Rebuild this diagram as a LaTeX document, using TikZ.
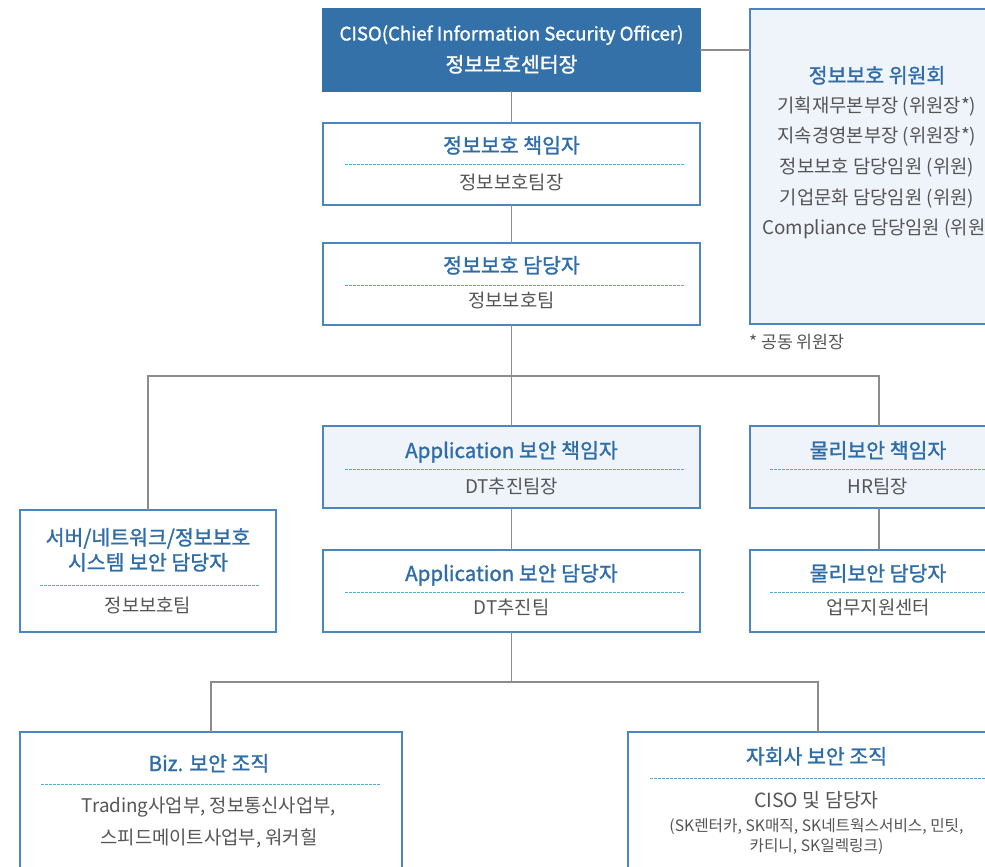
\documentclass[tikz,border=0pt]{standalone}
\usepackage{fontspec}
\setmainfont{Noto Sans CJK KR}
\newfontfamily\medfont{Noto Sans CJK KR}[FakeBold=1.3]
\definecolor{cisoblue}{HTML}{3471A8}
\definecolor{bordblue}{HTML}{4C86C0}
\definecolor{titleblue}{HTML}{2F6DA8}
\definecolor{bodygray}{HTML}{555555}
\definecolor{lightfill}{HTML}{EFF3FA}
\definecolor{dotblue}{HTML}{55AACC}
\definecolor{linegray}{HTML}{8C8C8C}
\tikzset{
  orgbox/.style={draw=bordblue, line width=1.2pt, anchor=north west, inner sep=0pt, outer sep=0pt},
  ttl/.style={anchor=base, text=titleblue, font=\fontsize{20.5}{24}\medfont, inner sep=0pt},
  sub/.style={anchor=base, text=bodygray, font=\fontsize{18.8}{22}\selectfont, inner sep=0pt},
  small/.style={anchor=base, text=bodygray, font=\fontsize{15.7}{19}\selectfont, inner sep=0pt},
  sep/.style={draw=dotblue, line width=1pt, dash pattern=on 2.5pt off 1.5pt},
  conn/.style={draw=linegray, line width=1.1pt}
}
\begin{document}
\begin{tikzpicture}[x=1pt,y=-1pt]
\useasboundingbox (0,0) rectangle (985,867);
\clip (0,0) rectangle (985,867);
\fill[white] (0,0) rectangle (985,867);

% boxes
\node[orgbox, draw=cisoblue, fill=cisoblue, minimum width=377pt, minimum height=82pt] (ciso) at (323,9) {};
\node[orgbox, fill=lightfill, minimum width=258pt, minimum height=315pt] (comm) at (750,9) {};
\node[orgbox, fill=white, minimum width=377pt, minimum height=82pt] (resp) at (323,123) {};
\node[orgbox, fill=white, minimum width=377pt, minimum height=82pt] (mgr) at (323,243) {};
\node[orgbox, fill=lightfill, minimum width=377pt, minimum height=82pt] (app1) at (323,426) {};
\node[orgbox, fill=white, minimum width=377pt, minimum height=82pt] (app2) at (323,550) {};
\node[orgbox, fill=lightfill, minimum width=258pt, minimum height=82pt] (phys1) at (750,426) {};
\node[orgbox, fill=white, minimum width=258pt, minimum height=82pt] (phys2) at (750,550) {};
\node[orgbox, fill=white, minimum width=256pt, minimum height=122pt] (srv) at (20,510) {};
\node[orgbox, fill=white, minimum width=382pt, minimum height=160pt] (biz) at (20,732) {};
\node[orgbox, fill=white, minimum width=380pt, minimum height=160pt] (subs) at (628,732) {};

\coordinate (j1) at (511.5,376);
\coordinate (j2) at (511.5,682);

\draw[conn] (ciso.east) -- (comm.west |- ciso.east);
\draw[conn] (ciso.south) -- (resp.north);
\draw[conn] (resp.south) -- (mgr.north);
\draw[conn] (mgr.south) -- (j1);
\draw[conn] (srv.north) |- (j1) -| (phys1.north);
\draw[conn] (j1) -- (app1.north);
\draw[conn] (app1.south) -- (app2.north);
\draw[conn] (phys1.south) -- (phys2.north);
\draw[conn] (app2.south) -- (j2);
\draw[conn] (biz.north) |- (j2) -| (subs.north);

% CISO texts
\node[anchor=base, text=white, font=\fontsize{18.6}{22}\medfont, inner sep=0pt] (cisoA) at (511.5,40.5) {CISO(Chief Information Security Officer)};
\node[anchor=base, text=white, font=\fontsize{20.5}{24}\medfont, inner sep=0pt] (cisoB) at (511.5,72) {정보보호센터장};

% committee
\node[ttl] (commT) at (877,83) {정보보호 위원회};
\node[sub] (commL1) at (877,112.5) {기획재무본부장 (위원장*)};
\node[sub] (commL2) at (877,142.5) {지속경영본부장 (위원장*)};
\node[sub] (commL3) at (877,173.5) {정보보호 담당임원 (위원)};
\node[sub] (commL4) at (877,204.5) {기업문화 담당임원 (위원)};
\node[sub] (commL5) at (877,234.5) {Compliance 담당임원 (위원)};
\node[anchor=base west, text=bodygray, font=\fontsize{17.3}{20}\selectfont, inner sep=0pt] (note) at (749,348.5) {* 공동 위원장};

% resp
\node[ttl] (respT) at (511.5,153) {정보보호 책임자};
\draw[sep] (345,164) -- (684,164);
\node[sub] (respS) at (511.5,189.5) {정보보호팀장};

% mgr
\node[ttl] (mgrT) at (511.5,273) {정보보호 담당자};
\draw[sep] (345,285) -- (684,285);
\node[sub] (mgrS) at (511.5,307.5) {정보보호팀};

% app1
\node[ttl] (app1T) at (511.5,458) {Application 보안 책임자};
\draw[sep] (345,469) -- (684,469);
\node[sub] (app1S) at (511.5,493.5) {DT추진팀장};

% app2
\node[ttl] (app2T) at (511.5,581) {Application 보안 담당자};
\draw[sep] (345,592) -- (684,592);
\node[sub] (app2S) at (511.5,614.5) {DT추진팀};

% phys1
\node[ttl] (phys1T) at (878,458) {물리보안 책임자};
\draw[sep] (770,469) -- (1000,469);
\node[sub] (phys1S) at (878,493.5) {HR팀장};

% phys2
\node[ttl] (phys2T) at (878,581) {물리보안 담당자};
\draw[sep] (770,592) -- (1000,592);
\node[sub] (phys2S) at (878,614.5) {업무지원센터};

% srv
\node[ttl] (srvT1) at (148,545) {서버/네트워크/정보보호};
\node[ttl] (srvT2) at (148,570) {시스템 보안 담당자};
\draw[sep] (40,585) -- (260,585);
\node[sub] (srvS) at (148,612.5) {정보보호팀};

% biz
\node[ttl] (bizT) at (209,771) {Biz. 보안 조직};
\draw[sep] (41,784) -- (380,784);
\node[sub] (bizS1) at (209,812.5) {Trading사업부, 정보통신사업부,};
\node[sub] (bizS2) at (209,844.5) {스피드메이트사업부, 워커힐};

% subsidiaries
\node[ttl] (subsT) at (816.5,764) {자회사 보안 조직};
\draw[sep] (650,778) -- (1000,778);
\node[anchor=base, text=bodygray, font=\fontsize{19.5}{23}\selectfont, inner sep=0pt] (subsS) at (816.5,807) {CISO 및 담당자};
\node[small] (subsL1) at (816.5,831.5) {(SK렌터카, SK매직, SK네트웍스서비스, 민팃,};
\node[small] (subsL2) at (816.5,851.5) {카티니, SK일렉링크)};
\end{tikzpicture}
\end{document}
